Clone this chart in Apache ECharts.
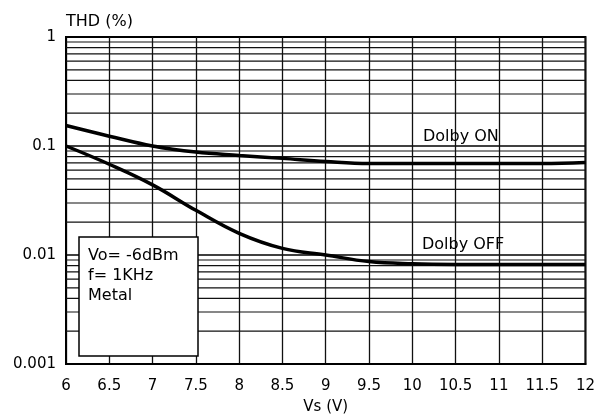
<!DOCTYPE html>
<html>
<head>
<meta charset="utf-8">
<script src="https://cdn.jsdelivr.net/npm/echarts@6/dist/echarts.min.js"></script>
<style>html,body{margin:0;padding:0;background:#fff}#c{width:598px;height:420px}</style>
</head>
<body>
<div id="c"></div>
<script>
var vs = [6, 6.5, 7, 7.5, 8, 8.5, 9, 9.5, 10, 10.5, 11, 11.5, 12];
var dolbyOn = [0.154, 0.123, 0.100, 0.088, 0.082, 0.077, 0.072, 0.069, 0.069, 0.069, 0.069, 0.069, 0.0706];
var dolbyOff = [0.100, 0.068, 0.044, 0.0257, 0.0158, 0.0115, 0.0100, 0.0087, 0.0083, 0.0082, 0.0082, 0.0082, 0.0082];
var minorGrid = [0.002,0.003,0.004,0.005,0.006,0.007,0.008,0.009,
                 0.02,0.03,0.04,0.05,0.06,0.07,0.08,0.09,
                 0.2,0.3,0.4,0.5,0.6,0.7,0.8,0.9];
var noteLines = ['Vo= -6dBm', 'f= 1KHz', 'Metal'];

var font = 'DejaVu Sans';
var chart = echarts.init(document.getElementById('c'));
function pairs(ys){ return vs.map(function(x,i){ return [x, ys[i]]; }); }

var series = minorGrid.map(function(v){
  return { type: 'line', silent: true, showSymbol: false, z: 1,
    data: [[vs[0], v], [vs[vs.length-1], v]],
    lineStyle: { color: '#111', width: 1.2 } };
});
series.push(
  { name: 'Dolby ON', type: 'line', data: pairs(dolbyOn), smooth: 0.4, showSymbol: false, z: 5,
    lineStyle: { color: '#000', width: 3.5 } },
  { name: 'Dolby OFF', type: 'line', data: pairs(dolbyOff), smooth: 0.4, showSymbol: false, z: 5,
    lineStyle: { color: '#000', width: 3.5 } }
);

function txt(s, x, y, size){
  return { type: 'text', z: 101, style: { text: s, x: x, y: y, fill: '#000', font: size + 'px ' + font, verticalAlign: 'middle' } };
}

chart.setOption({
  animation: false,
  backgroundColor: '#fff',
  grid: { left: 66, top: 37, right: 9, bottom: 53, show: true, borderColor: '#000', borderWidth: 2, backgroundColor: 'transparent' },
  xAxis: {
    type: 'value', min: 6, max: 12, interval: 0.5,
    name: 'Vs (V)', nameLocation: 'middle', nameGap: 36,
    nameTextStyle: { color: '#000', fontSize: 15, fontFamily: font },
    axisLine: { show: true, lineStyle: { color: '#000', width: 2 } },
    axisTick: { show: false },
    axisLabel: { color: '#000', fontSize: 15, fontFamily: font, margin: 15 },
    splitLine: { show: true, lineStyle: { color: '#111', width: 1.3 } }
  },
  yAxis: {
    type: 'log', logBase: 10, min: 0.001, max: 1,
    axisLine: { show: true, lineStyle: { color: '#000', width: 2 } },
    axisTick: { show: false },
    axisLabel: { color: '#000', fontSize: 15, fontFamily: font, margin: 10, verticalAlign: 'middle',
      formatter: function(v){ return String(+v.toPrecision(3)); } },
    splitLine: { show: true, lineStyle: { color: '#000', width: 1.5 } }
  },
  graphic: [
    txt('THD (%)', 66, 22, 16),
    { type: 'rect', z: 100, shape: { x: 79, y: 237, width: 119, height: 119 },
      style: { fill: '#fff', stroke: '#000', lineWidth: 1.5 } },
    txt(noteLines[0], 88, 256, 16),
    txt(noteLines[1], 88, 276, 16),
    txt(noteLines[2], 88, 296, 16),
    txt('Dolby ON', 423, 137, 16),
    txt('Dolby OFF', 422, 245, 16)
  ],
  series: series
});
</script>
</body>
</html>
